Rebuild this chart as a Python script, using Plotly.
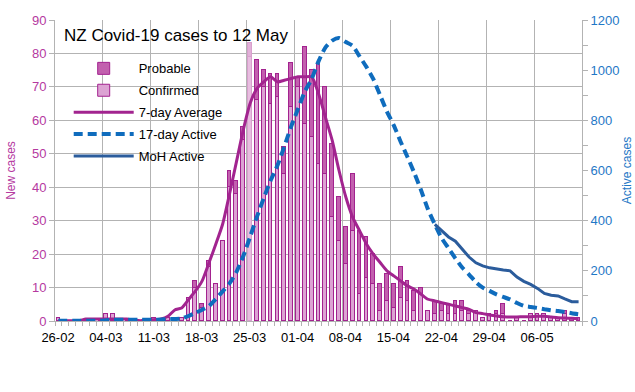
import plotly.graph_objects as go
import pandas as pd

# ---- data (one value per day, 26-02 .. 12-05) ----
dates = pd.date_range("2020-02-26", "2020-05-12").strftime("%d-%m").tolist()
tick_labels = ["26-02", "04-03", "11-03", "18-03", "25-03", "01-04",
               "08-04", "15-04", "22-04", "29-04", "06-05"]

confirmed = [1, 0, 0, 0, 0, 0, 0, 2, 2, 0, 0, 0, 0, 0, 1, 0, 1, 1, 1, 7,
             10, 4, 16, 11, 24, 40, 38, 54, 79, 66, 70, 65, 67, 44, 64, 70, 59, 55, 47, 44,
             31, 24, 17, 27, 8, 13, 11, 3, 6, 4, 7, 6, 3, 8, 3, 2, 3, 2, 2, 3,
             2, 3, 1, 2, 2, 2, 0, 1, 0, 2, 2, 2, 1, 1, 2, 1, 1]
probable = [0, 0, 0, 0, 0, 0, 0, 0, 0, 0, 0, 0, 0, 0, 0, 0, 0, 0, 0, 0,
            2, 1, 2, 0, 0, 5, 4, 4, 4, 12, 5, 9, 7, 8, 13, 3, 23, 20, 30, 26,
            22, 13, 11, 17, 19, 12, 9, 8, 8, 7, 9, 6, 6, 2, 0, 4, 2, 3, 4, 3,
            1, 0, 0, 0, 1, 3, 0, 0, 0, 0, 0, 0, 0, 0, 1, 0, 0]
avg7 = [0.1, 0.1, 0.1, 0.1, 0.6, 0.6, 0.6, 0.6, 0.6, 0.6, 0.6, 0.3, 0.1, 0.3, 0.4, 0.6,
        1.4, 3.3, 3.9, 6.4, 8.9, 12, 17.4, 23, 29, 38, 47.5, 57, 65, 69.5, 71.5, 73,
        71.5, 72, 72.5, 73, 73, 73, 68, 61, 54, 45, 37, 31, 27, 23, 20, 17.5,
        15, 13.5, 12, 10.5, 9.5, 8, 6.5, 6, 5.5, 5, 4.5, 4, 3.5, 2.5,
        2.2, 1.8, 1.5, 1.3, 1.2, 1.2, 1.3, 1.3, 1.4, 1.4, 1.2, 1.0, 0.9, 0.8, 0.7]
active17 = [1, 1, 1, 1, 1, 1, 1, 3, 5, 5, 5, 5, 5, 5, 5, 6, 7, 8, 10, 20,
            32, 45, 60, 88, 118, 150, 195, 258, 335, 415, 490, 560, 620, 695, 775, 845,
            915, 965, 1035, 1090, 1118, 1128, 1112, 1097, 1055, 1013, 965, 900, 835, 780,
            715, 654, 590, 520, 445, 385, 330, 290, 250, 213, 185, 155, 133, 120, 106,
            96, 86, 72, 60, 56, 52, 47, 43, 40, 36, 31, 27]
moh_start = 55
moh_active = [385, 360, 335, 318, 285, 255, 232, 220, 212, 206, 203, 200,
              175, 158, 146, 130, 110, 103, 100, 88, 77, 77]

# ---- styling ----
FONT = "Liberation Sans"
MAG = "#a3228f"
MAG_TXT = "#b5399f"
BLUE_TXT = "#1f78c6"
GRID = "#b3b3b3"

n = len(dates)
xc = [i + 0.5 for i in range(n)]           # category centres
tickpos = [dates.index(t) for t in tick_labels]

conf_fill = ["#e8bde0" if i == 28 else "#dca3d3" for i in range(n)]
conf_line = ["#d8a0cd" if i == 28 else MAG for i in range(n)]
prob_fill = ["#e2b0d9" if i == 28 else "#c260ae" for i in range(n)]

fig = go.Figure()
fig.add_bar(x=xc, y=confirmed, name="Confirmed", width=0.55, legendrank=2,
            legendgroup="c",
            marker=dict(color=conf_fill, line=dict(color=conf_line, width=1)))
fig.add_bar(x=xc, y=probable, name="Probable", width=0.55, legendrank=1,
            legendgroup="p",
            marker=dict(color=prob_fill, line=dict(color=conf_line, width=1)))
fig.add_scatter(x=xc, y=avg7, name="7-day Average", mode="lines", legendrank=3,
                legendgroup="a",
                line=dict(color="#a2248f", width=3, shape="spline", smoothing=0.6))
fig.add_scatter(x=xc, y=active17, name="17-day Active", mode="lines", yaxis="y2",
                legendrank=4, legendgroup="d",
                line=dict(color="#0f6cbd", width=4, dash="9px,5px", shape="spline",
                          smoothing=0.6))
fig.add_scatter(x=xc[moh_start:], y=moh_active, name="MoH Active", mode="lines",
                yaxis="y2", legendrank=5, legendgroup="m",
                line=dict(color="#2b5c9c", width=3))

fig.add_annotation(text="NZ Covid-19 cases to 12 May", xref="paper", yref="paper",
                   x=0.013, y=(321 - 35) / 301, xanchor="left", yanchor="middle",
                   showarrow=False, font=dict(size=17, color="black"))

fig.update_layout(
    width=635, height=392,
    margin=dict(l=55, r=53, t=20, b=71, autoexpand=False),
    paper_bgcolor="white", plot_bgcolor="white",
    font=dict(family=FONT, size=13, color="black"),
    barmode="stack", bargap=0,
    showlegend=True,
    legend=dict(x=0.026, y=0.889, xanchor="left", yanchor="top",
                bgcolor="rgba(0,0,0,0)", font=dict(size=13, color="black"),
                itemwidth=60, tracegroupgap=2, traceorder="grouped"),
    xaxis=dict(range=[0, n], tickmode="array", tickvals=tickpos, ticktext=tick_labels,
               ticklabelshift=3, showgrid=True, gridcolor=GRID, gridwidth=1,
               showline=True, linecolor=GRID, linewidth=1, automargin=False,
               ticks="outside", ticklen=4, tickcolor=GRID,
               minor=dict(tickmode="linear", tick0=0, dtick=1, ticks="outside",
                          ticklen=4, tickcolor=GRID, showgrid=False),
               tickfont=dict(size=13, color="black"), zeroline=False),
    yaxis=dict(range=[0, 90], dtick=10, showgrid=True, gridcolor=GRID, gridwidth=1,
               showline=True, linecolor=GRID, ticks="outside", ticklen=5,
               tickcolor=GRID, zeroline=False, automargin=False,
               tickfont=dict(size=13, color=MAG_TXT),
               title=dict(text="New cases", font=dict(size=12, color=MAG_TXT),
                          standoff=13)),
    yaxis2=dict(range=[0, 1200], dtick=200, overlaying="y", side="right",
                showgrid=False, showline=True, linecolor=GRID, ticks="outside",
                ticklen=5, tickcolor=GRID, zeroline=False, automargin=False,
                minor=dict(dtick=100, ticks="outside", ticklen=5, tickcolor=GRID),
                tickfont=dict(size=13, color=BLUE_TXT),
                title=dict(text="Active cases", font=dict(size=12, color=BLUE_TXT),
                           standoff=4)),
)

fig.write_html("out.html", config={"displayModeBar": False},
               post_script="document.body.style.margin='0px';")
